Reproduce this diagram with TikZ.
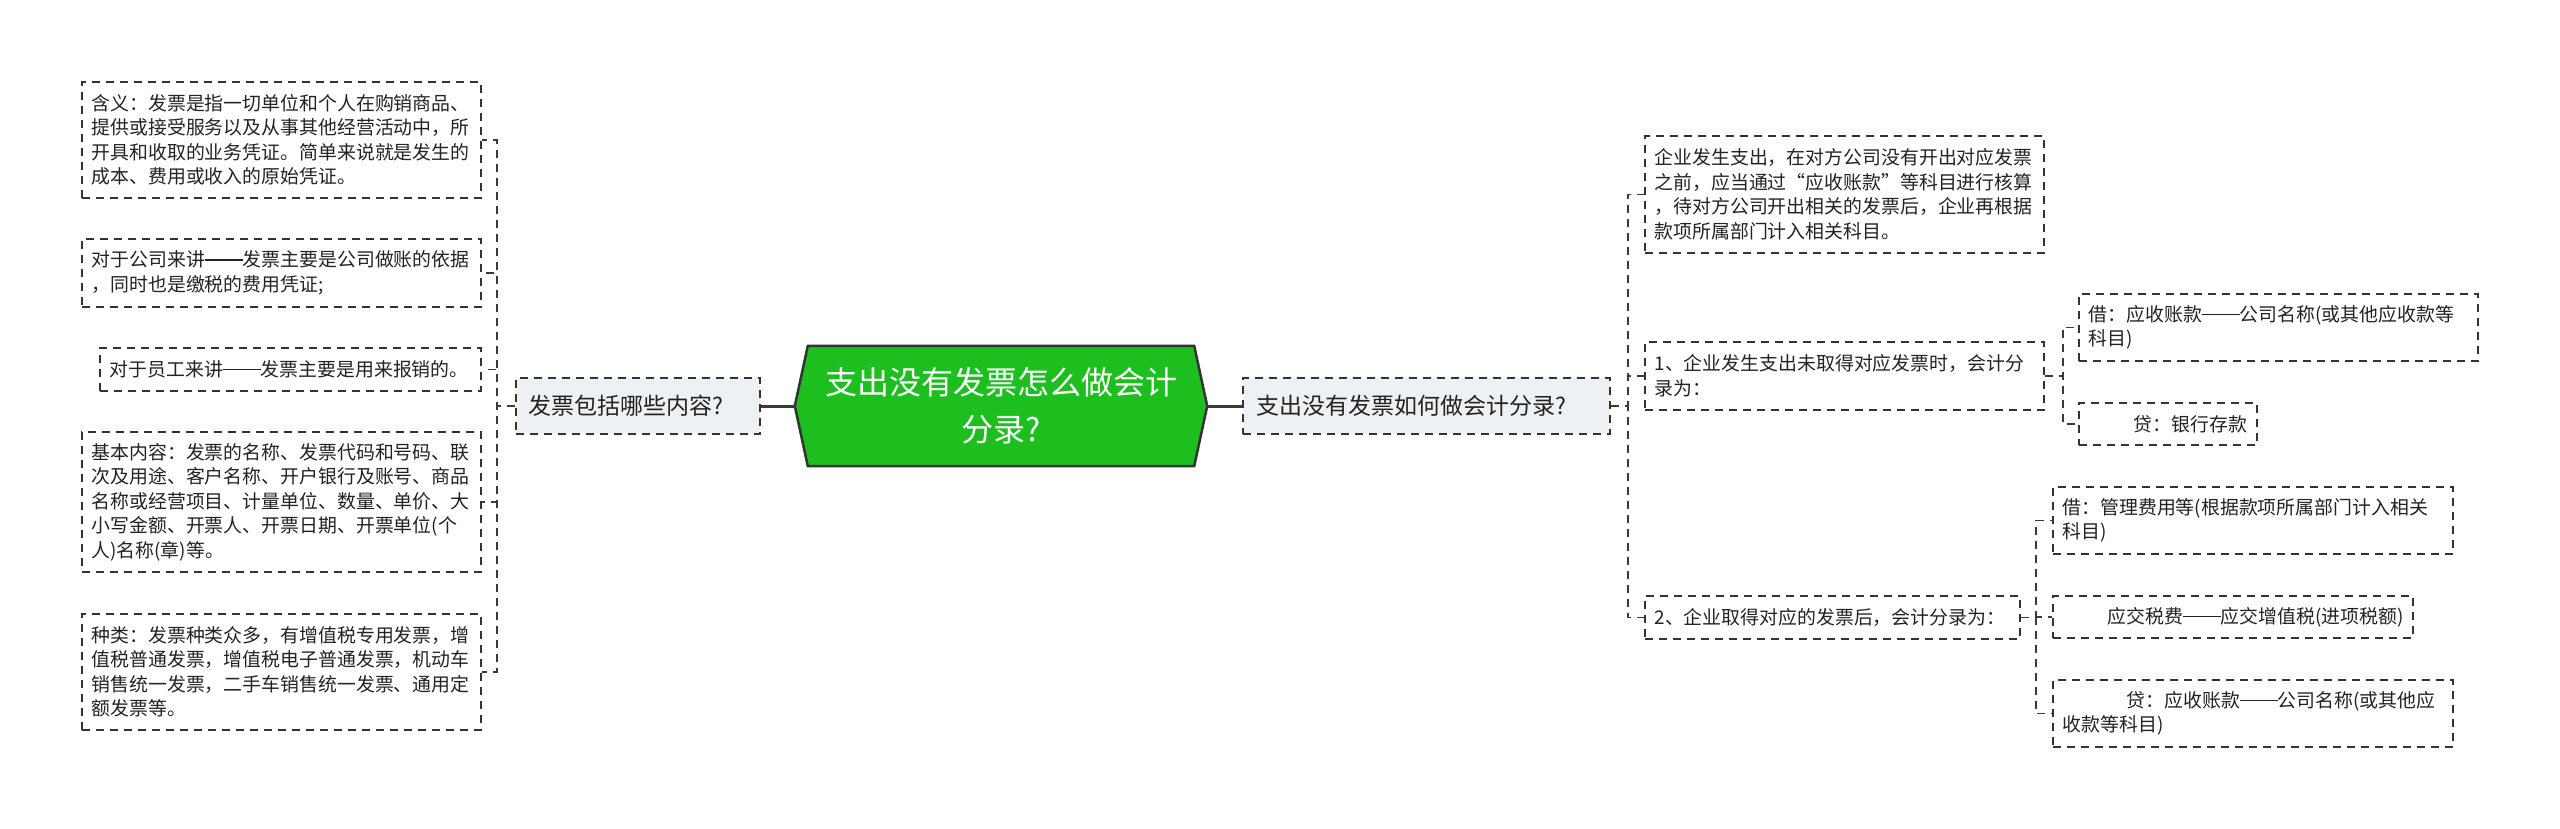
\documentclass[tikz,border=0pt]{standalone}
\usepackage{fontspec}
\setmainfont{Noto Sans CJK SC}
\usetikzlibrary{backgrounds}
\definecolor{lineC}{HTML}{3A3A3A}
\definecolor{boxC}{HTML}{333333}
\definecolor{fillC}{HTML}{EEF1F4}
\definecolor{greenC}{HTML}{1DBF1F}
\definecolor{txtC}{HTML}{222222}
\newcommand{\ddash}{\rule[0.34em]{2em}{0.065em}}
\begin{document}
\begin{tikzpicture}[x=1pt,y=-1pt,
  leaf/.style n args={3}{draw=boxC, line width=1.6pt, dash pattern=on 8pt off 6pt,
    minimum width=#1, minimum height=#2, text width=#3, inner xsep=9.5pt, inner ysep=0pt,
    align=left, font=\fontsize{18.9pt}{24.5pt}\selectfont, text=txtC},
  parent/.style n args={3}{draw=boxC, fill=fillC, line width=1.6pt, dash pattern=on 8pt off 6pt,
    minimum width=#1, minimum height=56pt, text width=#2, inner xsep=#3, inner ysep=0pt,
    align=left, font=\fontsize{23pt}{28pt}\selectfont, text=txtC},
  conn/.style={draw=lineC, line width=1.6pt, dash pattern=on 8pt off 6pt},
  mainconn/.style={draw=lineC, line width=3pt},
  hexfill/.style={fill=greenC, draw=boxC, line width=2.5pt, line join=miter}
]
\useasboundingbox (0,0) rectangle (2560,829);

% central topic
\node[minimum width=412pt, minimum height=120pt, inner sep=0pt] (C) at (1001,406) {};
\path[hexfill] (C.west) -- ([xshift=13pt]C.north west) -- ([xshift=-13pt]C.north east)
  -- (C.east) -- ([xshift=-13pt]C.south east) -- ([xshift=13pt]C.south west) -- cycle;
\node[align=center, font=\fontsize{32pt}{47pt}\selectfont, text=white, inner sep=0pt] (Ct) at (1001,406)
  {支出没有发票怎么做会计\\分录?};

% left branch
\node[parent={244pt}{220pt}{12pt}] (LP) at (638,406) {发票包括哪些内容?};
\node[leaf={399pt}{116pt}{380pt}] (L1) at (281.5,140)
  {含义：发票是指一切单位和个人在购销商品、\\提供或接受服务以及从事其他经营活动中，所\\开具和收取的业务凭证。简单来说就是发生的\\成本、费用或收入的原始凭证。};
\node[leaf={399pt}{68pt}{380pt}] (L2) at (281.5,273)
  {对于公司来讲\ddash 发票主要是公司做账的依据\\，同时也是缴税的费用凭证;};
\node[leaf={381pt}{43pt}{362pt}] (L3) at (290.5,369.5)
  {对于员工来讲\ddash 发票主要是用来报销的。};
\node[leaf={399pt}{140pt}{380pt}] (L4) at (281.5,502)
  {基本内容：发票的名称、发票代码和号码、联\\次及用途、客户名称、开户银行及账号、商品\\名称或经营项目、计量单位、数量、单价、大\\小写金额、开票人、开票日期、开票单位(个\\人)名称(章)等。};
\node[leaf={399pt}{116pt}{380pt}] (L5) at (281.5,672)
  {种类：发票种类众多，有增值税专用发票，增\\值税普通发票，增值税电子普通发票，机动车\\销售统一发票，二手车销售统一发票、通用定\\额发票等。};

% right branch
\node[parent={367pt}{340pt}{13.5pt}] (RP) at (1426.5,406) {支出没有发票如何做会计分录?};
\node[leaf={399pt}{117pt}{380pt}] (RA) at (1844.5,194.5)
  {企业发生支出，在对方公司没有开出对应发票\\之前，应当通过“应收账款”等科目进行核算\\，待对方公司开出相关的发票后，企业再根据\\款项所属部门计入相关科目。};
\node[leaf={399pt}{68pt}{380pt}] (RB) at (1844.5,376)
  {1、企业发生支出未取得对应发票时，会计分\\录为：};
\node[leaf={375pt}{43pt}{356pt}] (RC) at (1832.5,617.5)
  {2、企业取得对应的发票后，会计分录为：};

\node[leaf={399pt}{67pt}{380pt}] (RB1) at (2278.5,327.5)
  {借：应收账款\ddash 公司名称(或其他应收款等\\科目)};
\node[leaf={178pt}{42pt}{159pt}] (RB2) at (2168,424)
  {\hspace*{45pt}贷：银行存款};

\node[leaf={400pt}{67pt}{381pt}] (RC1) at (2253,520.5)
  {借：管理费用等(根据款项所属部门计入相关\\科目)};
\node[leaf={360pt}{42pt}{341pt}] (RC2) at (2233,617)
  {\hspace*{45pt}应交税费\ddash 应交增值税(进项税额)};
\node[leaf={400pt}{67pt}{381pt}] (RC3) at (2253,713.5)
  {\hspace*{64pt}贷：应收账款\ddash 公司名称(或其他应\\收款等科目)};

% main connectors
\draw[mainconn] (LP.east) -- (C.west);
\draw[mainconn] (C.east) -- (RP.west);

% left connectors
\foreach \n in {L1,L2,L3,L4,L5}
  \draw[conn] (LP.west) -- ++(-18,0) |- (\n.east);

% right connectors
\foreach \n in {RA,RB,RC}
  \draw[conn] (RP.east) -- ++(17,0) |- (\n.west);
\foreach \n in {RB1,RB2}
  \draw[conn] (RB.east) -- ++(18,0) |- (\n.west);
\foreach \n in {RC1,RC2,RC3}
  \draw[conn] (RC.east) -- ++(15,0) |- (\n.west);
\end{tikzpicture}
\end{document}
